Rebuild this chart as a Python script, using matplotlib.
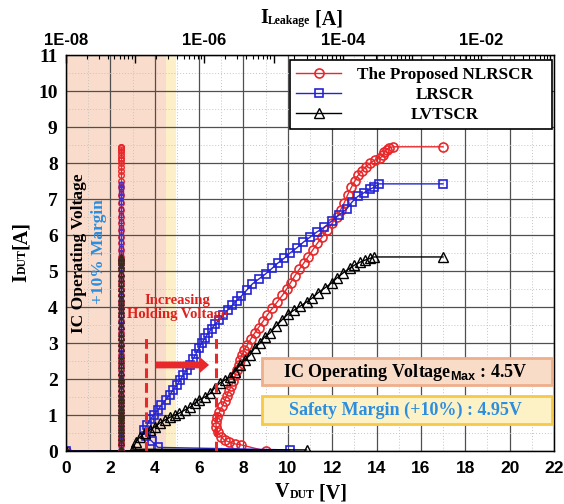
import matplotlib
matplotlib.use("Agg")
import matplotlib.pyplot as plt
from matplotlib.patches import Rectangle
from matplotlib.ticker import MultipleLocator, LogLocator, FuncFormatter
import numpy as np

SERIF = "Liberation Serif"
SANS = "Liberation Sans"
plt.rcParams["font.family"] = SERIF
plt.rcParams["font.weight"] = "bold"
plt.rcParams["mathtext.fontset"] = "custom"
plt.rcParams["mathtext.sf"] = SANS

RED = "#e8282b"
BLUE = "#2424d4"
BLACK = "#000000"
TXT_BLUE = "#2b8ee0"

# TLP I-V curves: V_DUT [V], I_DUT [A]
nlrscr_v = [0, 9.0, 7.9, 7.6, 7.35, 7.15, 6.98, 6.85, 6.77, 6.76, 6.8, 6.92, 7.05, 7.15,
            7.25, 7.34, 7.45, 7.55, 7.63, 7.7, 7.78, 7.85, 7.93, 8.03, 8.17, 8.32, 8.5,
            8.68, 8.88, 9.08, 9.3, 9.52, 9.75, 9.95, 10.13, 10.32, 10.52, 10.72, 10.92,
            11.12, 11.33, 11.55, 11.77, 12.0, 12.2, 12.38, 12.55, 12.7, 12.87, 13.02,
            13.17, 13.33, 13.52, 13.72, 13.92, 14.15, 14.3, 14.35, 14.45, 14.55, 14.75, 17.0]
nlrscr_i = [0, 0, 0.17, 0.2, 0.25, 0.3, 0.4, 0.53, 0.67, 0.8, 0.95, 1.08, 1.25, 1.39,
            1.53, 1.67, 1.8, 1.95, 2.1, 2.25, 2.4, 2.53, 2.67, 2.8, 2.94, 3.1, 3.27,
            3.43, 3.6, 3.78, 3.96, 4.14, 4.32, 4.5, 4.68, 4.87, 5.05, 5.22, 5.4,
            5.58, 5.77, 5.95, 6.14, 6.33, 6.5, 6.7, 6.9, 7.12, 7.33, 7.5,
            7.66, 7.78, 7.9, 8.0, 8.08, 8.13, 8.22, 8.3, 8.37, 8.42, 8.45, 8.45]

lrscr_v = [0, 10.1, 4.15, 3.87, 3.62, 3.5, 3.65, 3.8, 3.96, 4.15, 4.3, 4.5, 4.68, 4.83,
           5.0, 5.14, 5.28, 5.44, 5.6, 5.72, 5.86, 6.0, 6.12, 6.27, 6.42, 6.57, 6.72,
           6.9, 7.1, 7.3, 7.5, 7.7, 7.9, 8.15, 8.4, 8.7, 9.0, 9.3, 9.55, 9.85, 10.1,
           10.4, 10.7, 11.0, 11.3, 11.65, 12.0, 12.3, 12.65, 12.9, 13.15, 13.45, 13.7,
           13.9, 14.1, 17.0]
lrscr_i = [0, 0.03, 0.1, 0.27, 0.42, 0.58, 0.72, 0.88, 1.0, 1.14, 1.28, 1.42, 1.56, 1.7,
           1.83, 1.97, 2.1, 2.25, 2.39, 2.55, 2.7, 2.86, 3.0, 3.14, 3.28, 3.4, 3.52,
           3.64, 3.78, 3.92, 4.05, 4.18, 4.3, 4.47, 4.64, 4.78, 4.92, 5.08, 5.22, 5.36,
           5.5, 5.64, 5.8, 5.94, 6.08, 6.22, 6.4, 6.55, 6.72, 6.92, 7.07, 7.18, 7.27,
           7.33, 7.42, 7.42]

lvtscr_v = [0, 10.85, 3.0, 3.15, 3.33, 3.56, 3.78, 4.0, 4.23, 4.46, 4.7, 4.9, 5.1, 5.36,
            5.6, 5.8, 6.0, 6.26, 6.5, 6.7, 6.94, 7.16, 7.4, 7.6, 7.84, 8.06, 8.3, 8.5,
            8.74, 8.96, 9.2, 9.45, 9.73, 10.0, 10.3, 10.55, 10.85, 11.1, 11.35, 11.67,
            11.98, 12.2, 12.48, 12.8, 13.0, 13.24, 13.47, 13.7, 13.87, 17.0]
lvtscr_i = [0, 0.03, 0.05, 0.25, 0.39, 0.5, 0.58, 0.67, 0.78, 0.86, 0.94, 1.0, 1.05, 1.14,
            1.22, 1.33, 1.42, 1.5, 1.6, 1.75, 1.89, 1.97, 2.06, 2.2, 2.39, 2.53, 2.67,
            2.86, 3.0, 3.17, 3.28, 3.46, 3.64, 3.8, 3.92, 4.02, 4.14, 4.25, 4.39, 4.53,
            4.67, 4.8, 4.94, 5.08, 5.16, 5.24, 5.3, 5.35, 5.39, 5.39]

# leakage current read after every pulse [A]
nlrscr_leak = 6.3e-8
lrscr_leak = 6.3e-8
lvtscr_leak = 6.3e-8

ic_vmax = 4.5
ic_vmargin = 4.95
holding_old = 3.6
holding_new = 6.75

fig = plt.figure(figsize=(5.64, 5.04), dpi=100)
ax = fig.add_axes([66 / 564, 53 / 504, 488 / 564, 396 / 504])
ax.set_xlim(0, 22)
ax.set_ylim(0, 11)

ax.axvspan(0, ic_vmax, color="#f9dccb", zorder=0, lw=0)
ax.axvspan(ic_vmax, ic_vmargin, color="#fdf0c8", zorder=0, lw=0)

ax.xaxis.set_major_locator(MultipleLocator(2))
ax.xaxis.set_minor_locator(MultipleLocator(1))
ax.yaxis.set_major_locator(MultipleLocator(1))
ax.yaxis.set_minor_locator(MultipleLocator(0.5))
ax.set_axisbelow(True)
ax.grid(which="major", color="#505050", lw=0.9)
ax.grid(which="minor", color="#c4c4c4", lw=0.7, ls=(0, (1, 2)))
ax.tick_params(axis="x", which="both", direction="in", top=False, length=0,
               labelsize=12.5, pad=7, labelfontfamily=SANS)
ax.tick_params(axis="y", which="both", direction="in", right=False, length=0,
               labelsize=14, pad=6)
for s in ax.spines.values():
    s.set_linewidth(1.0)

l1, = ax.plot(nlrscr_v, nlrscr_i, "-o", color=RED, mfc="none", ms=6.5, mew=1.2, lw=1.0, zorder=3)
l2, = ax.plot(lrscr_v, lrscr_i, "-s", color=BLUE, mfc="none", ms=5.5, mew=1.2, lw=1.0, zorder=3)
l3, = ax.plot(lvtscr_v, lvtscr_i, "-^", color=BLACK, mfc="none", ms=6.5, mew=1.0, lw=1.0, zorder=3)

# markers showing holding voltage shift
ax.plot([holding_old, holding_old], [0, 3.2], color=RED, lw=2.2, ls=(0, (3.2, 1.6)), zorder=4)
ax.plot([holding_new, holding_new], [0, 3.2], color=RED, lw=2.2, ls=(0, (3.2, 1.6)), zorder=4)
ax.arrow(4.05, 2.39, 2.4, 0, width=0.19, head_width=0.48, head_length=0.45,
         length_includes_head=True, color=RED, lw=0, zorder=5)
ax.text(5.02, 3.99, "Increasing\nHolding Voltage", color="#e0201c", fontsize=10.5,
        ha="center", va="center", linespacing=1.05, zorder=5)

ax.text(0.58, 5.5, "IC Operating Voltage", rotation=90, fontsize=12.5,
        ha="center", va="center", zorder=5)
ax.text(1.49, 5.55, "+10% Margin", rotation=90, fontsize=12.5, color=TXT_BLUE,
        ha="center", va="center", zorder=5)

ax.add_patch(Rectangle((8.83, 1.83), 13.07, 0.75, fc="#f9dcc8", ec="#efae8c", lw=2, zorder=4))
ax.text(15.3, 2.17, r"IC Operating Voltage$_\mathsf{Max}$ : 4.5V", fontsize=13,
        ha="center", va="center", zorder=5)
ax.add_patch(Rectangle((8.83, 0.75), 13.07, 0.78, fc="#fdf1c6", ec="#f7c948", lw=2, zorder=4))
ax.text(15.3, 1.14, "Safety Margin (+10%) : 4.95V", fontsize=13, color=TXT_BLUE,
        ha="center", va="center", zorder=5)

# leakage axis on top
ax2 = ax.twiny()
ax2.set_xscale("log")
ax2.set_xlim(1e-8, 1.13e-1)
ax2.plot([nlrscr_leak] * len(nlrscr_i), nlrscr_i, "-o", color=RED, mfc="none", ms=4, mew=1.0, lw=0.8)
ax2.plot([lrscr_leak] * len(lrscr_i), lrscr_i, "-s", color="#4a30c8", mfc="none", ms=3.5, mew=1.0, lw=0.8)
ax2.plot([lvtscr_leak] * len(lvtscr_i), lvtscr_i, "-^", color="#3a2a1a", mfc="none", ms=4.5, mew=0.9, lw=0.8)
ax2.xaxis.set_major_locator(LogLocator(base=10, numticks=20))
ax2.xaxis.set_minor_locator(LogLocator(base=10, subs=np.arange(2, 10), numticks=20))


def leak_fmt(x, pos):
    e = int(round(np.log10(x)))
    return f"1E-{-e:02d}" if e % 2 == 0 else ""


ax2.xaxis.set_major_formatter(FuncFormatter(leak_fmt))
ax2.tick_params(axis="x", which="major", direction="in", length=6, width=1.0,
                labelsize=12, pad=5, labelfontfamily=SANS)
ax2.tick_params(axis="x", which="minor", direction="in", length=3, width=0.8)
ax2.set_ylim(0, 11)

leg = ax2.legend([l1, l2, l3], ["The Proposed NLRSCR", "LRSCR", "LVTSCR"],
                 loc="upper left", bbox_to_anchor=(0.459, 0.818, 0.537, 0.169),
                 mode="expand", borderaxespad=0, fontsize=12.3, handlelength=2.6,
                 handletextpad=1.0, labelspacing=0.24, borderpad=0.38, fancybox=False,
                 framealpha=1, edgecolor="black")
leg.get_frame().set_linewidth(1.2)
leg.set_zorder(10)


def chain_label(x, y, parts, rotation=0):
    # parts: list of (text, size); small parts sit on the same baseline
    big = parts[0][1]
    if rotation == 0:
        prev = fig.text(x, y, parts[0][0], fontsize=big, ha="left", va="baseline")
        prev_size = big
        for txt, size in parts[1:]:
            prev = ax.annotate(txt, xy=(1, 0), xycoords=prev,
                               xytext=(0, 0.216 * prev_size), textcoords="offset points",
                               fontsize=size, ha="left", va="baseline", annotation_clip=False)
            prev_size = size
    else:
        prev = fig.text(x, y, parts[0][0], fontsize=big, rotation=90, ha="right", va="bottom")
        prev_size = big
        for txt, size in parts[1:]:
            prev = ax.annotate(txt, xy=(1, 1), xycoords=prev,
                               xytext=(0.216 * (size - prev_size), 0), textcoords="offset points",
                               fontsize=size, rotation=90, ha="right", va="bottom",
                               annotation_clip=False)
            prev_size = size


chain_label(275 / 564, 1 - 497 / 504, [("V", 14.5), ("DUT", 8.5), (" [V]", 14.5)])
chain_label(260 / 564, 1 - 23 / 504, [("I", 14.5), ("Leakage", 8.5), (" [A]", 14.5)])
chain_label(31 / 564, 1 - 282 / 504, [("I", 14.5), ("DUT", 8.5), ("[A]", 14.5)], rotation=90)

# center the legend labels in their column
fig.canvas.draw()
r = fig.canvas.get_renderer()
for t in leg.get_texts():
    bb = t.get_window_extent(r)
    t.set_position((445 - (bb.x0 + bb.x1) / 2, 0))

fig.savefig("out.png", dpi=100)
